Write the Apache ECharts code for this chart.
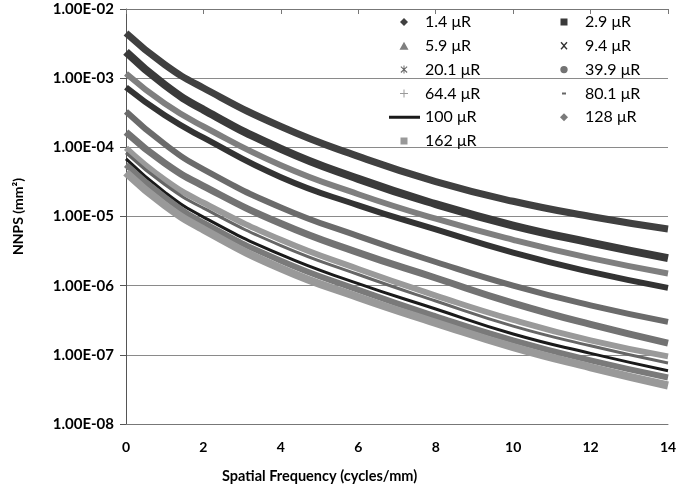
<!DOCTYPE html>
<html>
<head>
<meta charset="utf-8">
<script src="https://cdn.jsdelivr.net/npm/echarts@6/dist/echarts.min.js"></script>
<style>html,body{margin:0;padding:0;background:#fff}#c{width:680px;height:491px}</style>
</head>
<body>
<div id="c"></div>
<script>
// Spatial frequency (cycles/mm) sample points
const freq = [0, 1, 2, 4, 6, 8, 10, 12, 14];
// NNPS (mm^2) per exposure
const nnps_1_4   = [4.5e-3, 1.57e-3, 7.2e-4, 2.0e-4, 7.4e-5, 3.2e-5, 1.66e-5, 1.0e-5, 6.6e-6];
const nnps_2_9   = [2.4e-3, 8.0e-4, 3.5e-4, 9.5e-5, 3.5e-5, 1.51e-5, 7.4e-6, 4.2e-6, 2.5e-6];
const nnps_5_9   = [1.17e-3, 4.3e-4, 2.0e-4, 5.5e-5, 2.1e-5, 9.3e-6, 4.6e-6, 2.5e-6, 1.5e-6];
const nnps_9_4   = [7.4e-4, 2.9e-4, 1.38e-4, 3.7e-5, 1.45e-5, 6.5e-6, 3.0e-6, 1.58e-6, 9.3e-7];
const nnps_20_1  = [3.3e-4, 1.11e-4, 4.8e-5, 1.35e-5, 5.2e-6, 2.2e-6, 1.0e-6, 5.2e-7, 3.0e-7];
const nnps_39_9  = [1.66e-4, 5.9e-5, 2.75e-5, 7.9e-6, 3.0e-6, 1.29e-6, 5.6e-7, 2.75e-7, 1.48e-7];
const nnps_64_4  = [9.8e-5, 3.4e-5, 1.58e-5, 4.6e-6, 1.74e-6, 7.2e-7, 3.2e-7, 1.62e-7, 9.5e-8];
const nnps_80_1  = [8.3e-5, 2.9e-5, 1.32e-5, 3.8e-6, 1.45e-6, 6.0e-7, 2.6e-7, 1.35e-7, 7.6e-8];
const nnps_100   = [6.8e-5, 2.25e-5, 9.8e-6, 2.8e-6, 1.07e-6, 4.6e-7, 2.0e-7, 1.05e-7, 5.9e-8];
const nnps_128   = [5.6e-5, 1.9e-5, 8.1e-6, 2.3e-6, 8.7e-7, 3.6e-7, 1.62e-7, 8.3e-8, 4.7e-8];
const nnps_162   = [4.3e-5, 1.46e-5, 6.5e-6, 1.78e-6, 6.8e-7, 2.9e-7, 1.29e-7, 6.6e-8, 3.6e-8];

const seriesNames = ['1.4 μR','2.9 μR','5.9 μR','9.4 μR','20.1 μR','39.9 μR','64.4 μR','80.1 μR','100 μR','128 μR','162 μR'];
const seriesValues = [nnps_1_4, nnps_2_9, nnps_5_9, nnps_9_4, nnps_20_1, nnps_39_9, nnps_64_4, nnps_80_1, nnps_100, nnps_128, nnps_162];
const xTicks = [0, 2, 4, 6, 8, 10, 12, 14];
const yTickLabels = ['1.00E-08','1.00E-07','1.00E-06','1.00E-05','1.00E-04','1.00E-03','1.00E-02'];

const colors = ['#404040','#3a3a3a','#7f7f7f','#333333','#6b6b6b','#737373','#9a9a9a','#666666','#1a1a1a','#7a7a7a','#999999'];
const widths = [7, 8, 6, 6, 6, 7, 6, 3, 3, 6, 8];

// legend icons drawn in a 32x8 box (tiny corner anchors fix the box)
const BOX = 'M0,0L0.01,0L0,0.01Z M32,8L31.99,8L32,7.99Z ';
const icons = [
  'M16,0L20,4L16,8L12,4Z',
  'M12.5,0.5H19.5V7.5H12.5Z',
  'M16,0L20.5,8H11.5Z',
  'M12.5,1L13.5,0L16,2.8L18.5,0L19.5,1L16.8,4L19.5,7L18.5,8L16,5.2L13.5,8L12.5,7L15.2,4Z',
  'M12.5,1.5L13.3,0.7L16,3.3L18.7,0.7L19.5,1.5L16.8,4L19.5,6.5L18.7,7.3L16,4.7L13.3,7.3L12.5,6.5L15.2,4Z M15.5,0H16.5V8H15.5Z',
  'M12.3,4A3.7,3.7 0 1,0 19.7,4A3.7,3.7 0 1,0 12.3,4Z',
  'M15.5,0H16.5V3.5H20V4.5H16.5V8H15.5V4.5H12V3.5H15.5Z',
  'M14,3H18V5H14Z',
  'M1,2.5H32V5.5H1Z',
  'M16,0L20,4L16,8L12,4Z',
  'M12.5,0.5H19.5V7.5H12.5Z'
].map(p => 'path://' + BOX + p);

const FONT = 'Lato, "Open Sans", sans-serif';

function legendData(idx) {
  return idx.map(i => ({ name: seriesNames[i], icon: icons[i], itemStyle: { color: colors[i] } }));
}
const legendCommon = {
  orient: 'vertical', top: 9, itemWidth: 32, itemHeight: 8, itemGap: 7.8,
  textStyle: { fontFamily: FONT, fontSize: 16, color: '#000' },
  selectedMode: false, symbolKeepAspect: false
};

const chart = echarts.init(document.getElementById('c'), null, { renderer: 'canvas' });
chart.setOption({
  animation: false,
  backgroundColor: '#fff',
  grid: { left: 126, right: 12, top: 9, bottom: 67, containLabel: false },
  legend: [
    Object.assign({}, legendCommon, { left: 383, data: legendData([0,2,4,6,8,10]) }),
    Object.assign({}, legendCommon, { left: 543, data: legendData([1,3,5,7,9]) })
  ],
  xAxis: [{
    type: 'value', min: 0, max: 14, interval: 2, position: 'bottom',
    axisLine: { show: true, lineStyle: { color: '#777', width: 1 } },
    axisTick: { show: false },
    splitLine: { show: false },
    axisLabel: { margin: 16, fontFamily: FONT, fontSize: 14, fontWeight: 'bold', color: '#000',
      formatter: v => xTicks.includes(v) ? String(v) : '' }
  }, {
    type: 'value', min: 0, max: 14, interval: 2, position: 'top',
    axisLine: { show: true, lineStyle: { color: '#777', width: 1 } },
    axisTick: { show: true, inside: true, length: 5, lineStyle: { color: '#777' } },
    axisLabel: { show: false }, splitLine: { show: false }
  }],
  yAxis: {
    type: 'log', logBase: 10, min: 1e-8, max: 1e-2,
    name: 'NNPS (mm²)', nameLocation: 'middle', nameGap: 101, nameRotate: 90,
    nameTextStyle: { fontFamily: FONT, fontSize: 14, fontWeight: 'bold', color: '#000' },
    axisLine: { show: true, lineStyle: { color: '#555', width: 1 } },
    axisTick: { show: true, length: 6, lineStyle: { color: '#555' } },
    splitLine: { show: true, lineStyle: { color: '#8a8a8a', width: 1 } },
    minorTick: { show: false },
    axisLabel: { margin: 12, fontFamily: FONT, fontSize: 15, fontWeight: 'bold', color: '#000',
      formatter: v => yTickLabels[Math.round(Math.log10(v)) + 8] || '' }
  },
  graphic: [{
    type: 'text', left: 222, top: 469,
    style: { text: 'Spatial Frequency (cycles/mm)', font: 'bold 14.5px ' + FONT, fill: '#000' }
  }],
  series: seriesValues.map((vals, i) => ({
    name: seriesNames[i], type: 'line', smooth: 0.5,
    showSymbol: false, symbol: 'none',
    xAxisIndex: 0,
    data: freq.map((f, k) => [f, vals[k]]),
    lineStyle: { color: colors[i], width: widths[i] },
    itemStyle: { color: colors[i] },
    z: 2 + i
  }))
});
</script>
</body>
</html>
